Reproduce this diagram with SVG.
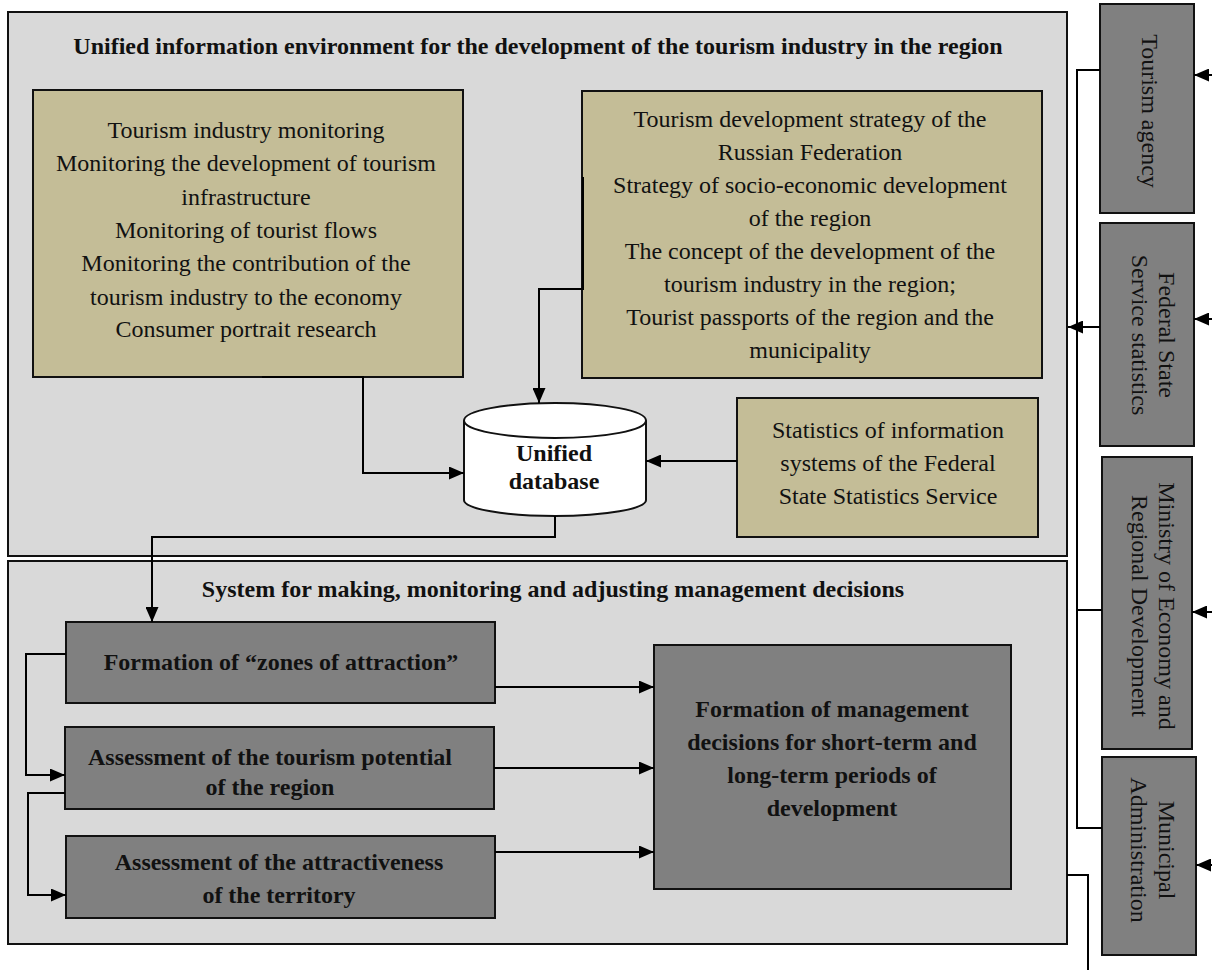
<svg xmlns="http://www.w3.org/2000/svg" width="1212" height="970" viewBox="0 0 1212 970">
<style>
.cont{fill:#d9d9d9;stroke:#111;stroke-width:2}
.olive{fill:#c4bd97;stroke:#111;stroke-width:2}
.dark{fill:#808080;stroke:#111;stroke-width:2}
.t{font-family:"Liberation Serif","Times New Roman",serif;font-size:24px;fill:#111;text-anchor:middle}
.b{font-weight:bold}
.ln{fill:none;stroke:#000;stroke-width:2}
.ar{fill:none;stroke:#000;stroke-width:2;marker-end:url(#ah)}
</style>
<defs>
<marker id="ah" markerUnits="userSpaceOnUse" markerWidth="15" markerHeight="13" refX="15" refY="6.5" orient="auto">
<path d="M0,0 L15,6.5 L0,13 z" fill="#000"/>
</marker>
</defs>
<rect width="1212" height="970" fill="#fff"/>
<g id="env">
<rect class="cont" x="8" y="12" width="1059" height="544"/>
<text class="t b" x="538" y="54">Unified information environment for the development of the tourism industry in the region</text>
</g>
<g id="system">
<rect class="cont" x="8" y="561" width="1059" height="383"/>
<text class="t b" x="553" y="597">System for making, monitoring and adjusting management decisions</text>
</g>
<g id="monitoring">
<rect class="olive" x="33" y="90" width="430" height="287"/>
<text class="t" x="246" y="138">Tourism industry monitoring</text>
<text class="t" x="246" y="171">Monitoring the development of tourism</text>
<text class="t" x="246" y="204.5">infrastructure</text>
<text class="t" x="246" y="238">Monitoring of tourist flows</text>
<text class="t" x="246" y="271">Monitoring the contribution of the</text>
<text class="t" x="246" y="304.5">tourism industry to the economy</text>
<text class="t" x="246" y="337">Consumer portrait research</text>
</g>
<g id="strategy">
<rect class="olive" x="582" y="91" width="460" height="287"/>
<text class="t" x="810" y="127">Tourism development strategy of the</text>
<text class="t" x="810" y="160">Russian Federation</text>
<text class="t" x="810" y="193">Strategy of socio-economic development</text>
<text class="t" x="810" y="226">of the region</text>
<text class="t" x="810" y="259">The concept of the development of the</text>
<text class="t" x="810" y="292">tourism industry in the region;</text>
<text class="t" x="810" y="325">Tourist passports of the region and the</text>
<text class="t" x="810" y="358">municipality</text>
</g>
<g id="statistics">
<rect class="olive" x="737" y="398" width="301" height="139"/>
<text class="t" x="888" y="438">Statistics of information</text>
<text class="t" x="888" y="471">systems of the Federal</text>
<text class="t" x="888" y="504">State Statistics Service</text>
</g>
<g id="database">
<path d="M464,420.5 V500 A91,16 0 0 0 646,500 V420.5" fill="#fff" stroke="#111" stroke-width="2"/>
<ellipse cx="555" cy="420.5" rx="91" ry="17.5" fill="#fff" stroke="#111" stroke-width="2"/>
<text class="t b" x="554" y="461">Unified</text>
<text class="t b" x="554" y="489">database</text>
</g>
<g id="zones">
<rect class="dark" x="66" y="622" width="429" height="81"/>
<text class="t b" x="281" y="670">Formation of “zones of attraction”</text>
</g>
<g id="potential">
<rect class="dark" x="65" y="727" width="429" height="82"/>
<text class="t b" x="270" y="765">Assessment of the tourism potential</text>
<text class="t b" x="270" y="795">of the region</text>
</g>
<g id="attractiveness">
<rect class="dark" x="66" y="836" width="429" height="82"/>
<text class="t b" x="279" y="870">Assessment of the attractiveness</text>
<text class="t b" x="279" y="903">of the territory</text>
</g>
<g id="decisions">
<rect class="dark" x="654" y="645" width="357" height="244"/>
<text class="t b" x="832" y="717">Formation of management</text>
<text class="t b" x="832" y="750">decisions for short-term and</text>
<text class="t b" x="832" y="783">long-term periods of</text>
<text class="t b" x="832" y="816">development</text>
</g>
<g id="agency">
<rect class="dark" x="1100" y="4" width="94" height="209"/>
<text class="t" transform="translate(1142,111) rotate(90)" x="0" y="0">Tourism agency</text>
</g>
<g id="federal">
<rect class="dark" x="1100" y="223" width="94" height="223"/>
<text class="t" transform="translate(1159,335) rotate(90)" x="0" y="0">Federal State</text>
<text class="t" transform="translate(1132,335) rotate(90)" x="0" y="0">Service statistics</text>
</g>
<g id="ministry">
<rect class="dark" x="1102" y="457" width="90" height="292"/>
<text class="t" transform="translate(1159,606) rotate(90)" x="0" y="0">Ministry of Economy and</text>
<text class="t" transform="translate(1132,606) rotate(90)" x="0" y="0">Regional Development</text>
</g>
<g id="municipal">
<rect class="dark" x="1102" y="757" width="94" height="198"/>
<text class="t" transform="translate(1159,850) rotate(90)" x="0" y="0">Municipal</text>
<text class="t" transform="translate(1131,850) rotate(90)" x="0" y="0">Administration</text>
</g>
<g id="connectors">
<path class="ln" d="M1100,70 H1077 V828 H1102"/>
<path class="ln" d="M1077,610 H1102"/>
<path class="ar" d="M1100,327 H1068"/>
<path class="ar" d="M1212,75 H1194"/>
<path class="ar" d="M1212,319 H1194"/>
<path class="ar" d="M1212,612 H1192"/>
<path class="ar" d="M1212,865 H1196"/>
<path class="ln" d="M1067,875 H1088 V970"/>
<path class="ar" d="M262,377 H363 V473 H464"/>
<path class="ar" d="M583,177 V289 H539 V403"/>
<path class="ar" d="M737,461 H646"/>
<path class="ar" d="M555,516 V537 H152 V622"/>
<path class="ar" d="M66,654 H26 V775 H65"/>
<path class="ar" d="M65,793 H28 V895 H66"/>
<path class="ar" d="M495,687 H654"/>
<path class="ar" d="M494,768 H654"/>
<path class="ar" d="M495,852 H654"/>
</g>
</svg>
